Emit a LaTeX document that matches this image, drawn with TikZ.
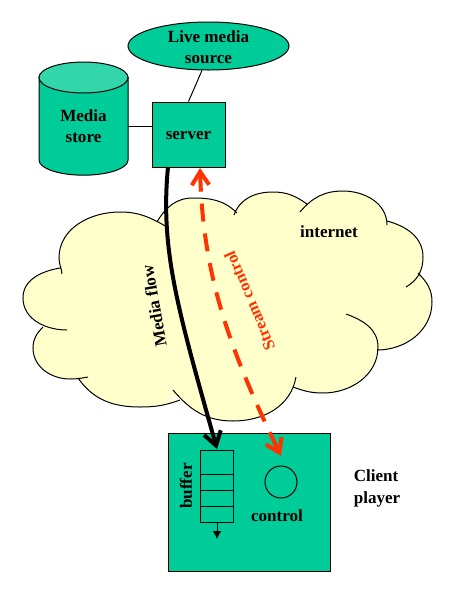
\documentclass[tikz,border=0pt]{standalone}
\usepackage{fontspec}
\setmainfont{Liberation Serif}
\usetikzlibrary{shapes.geometric,arrows.meta}
\definecolor{boxgreen}{HTML}{00CC99}
\definecolor{topgreen}{HTML}{33D6AB}
\definecolor{cloudyellow}{HTML}{FFFFCC}
\definecolor{streamred}{HTML}{FF3300}
% the lobes of the cloud, each one an open stroke
\newcommand{\cloudlobes}{
    (157,222) to[out=60,in=180] (193,198) to[out=0,in=135] (237,213)
    (234,215) to[out=70,in=180] (273,192) to[out=0,in=145] (307,204)
    (300,212) to[out=50,in=180] (343,191) to[out=0,in=90] (387,225)
    (387,221) to[out=-15,in=90] (423,257) to[out=-90,in=30] (406,287)
    (418,273) to[out=-45,in=90] (432,302) to[out=-90,in=0] (377,350)
    (346,314) to[out=-20,in=90] (378,347) to[out=-90,in=0] (323,393) to[out=180,in=-20] (293,387)
    (296,377) to[out=-100,in=0] (233,421) to[out=180,in=-50] (173,390)
    (180,400) to[out=200,in=0] (140,407) to[out=180,in=-55] (78,378)
    (88,377) to[out=190,in=0] (70,379) to[out=180,in=-90] (33,348) to[out=90,in=225] (43,327)
    (67,330) to[out=180,in=-90] (23,298) to[out=90,in=190] (60,268)
    (62,274) to[out=95,in=-90] (59,258) to[out=90,in=180] (120,212) to[out=0,in=150] (167,227)
}
\begin{document}
\begin{tikzpicture}[x=.75pt,y=-.75pt,line width=.75pt,
    txt/.style={font=\fontsize{12.8}{16}\selectfont\bfseries,align=center,inner sep=0pt},
    box/.style={draw,fill=boxgreen,inner sep=0pt},
    slot/.style={draw,inner sep=0pt,minimum width=24.4pt},
    flow/.style={line width=3pt,-{Straight Barb[length=10pt,width=13pt,line width=3pt]}},
    stream/.style={streamred,line width=3pt,dash pattern=on 13.5pt off 9pt,
        {Straight Barb[length=10pt,width=13pt,line width=3pt]}-{Straight Barb[length=10pt,width=13pt,line width=3pt]}}]

    \useasboundingbox (0,0) rectangle (458,594);

    % the cloud
    \fill[cloudyellow] (157,222) -- (193,198) -- (237,213) -- (273,192) -- (307,204) -- (343,191)
    -- (387,223) -- (423,257) -- (418,273) -- (432,302) -- (377,350) -- (323,393) -- (293,387)
    -- (233,421) -- (173,395) -- (140,407) -- (78,378) -- (70,379) -- (33,348) -- (43,327)
    -- (23,298) -- (60,270) -- (59,258) -- (120,212) -- cycle;
    \fill[cloudyellow] \cloudlobes;
    \draw \cloudlobes;

    % the boxes
    \node[box,ellipse,minimum width=120.75pt,minimum height=36pt] (source) at (208.5,46) {};
    \node[box,minimum width=54.75pt,minimum height=48.75pt] (server) at (188.5,134.5) {};
    \node[box,minimum width=121.5pt,minimum height=103.5pt] (client) at (249,502) {};

    % the store
    \draw[fill=boxgreen] (39,77) -- (39,160) arc[start angle=180,end angle=360,x radius=33.4pt,y radius=11.4pt]
    -- (128,77) -- cycle;
    \draw[fill=topgreen] (83.5,77.5) ellipse[x radius=33.4pt,y radius=11.6pt];

    \node[slot,minimum height=18pt] (slota) at (217,462) {};
    \node[slot,minimum height=12pt] (slotb) at (217,482) {};
    \node[slot,minimum height=12pt] (slotc) at (217,498) {};
    \node[slot,minimum height=12.5pt] (slotd) at (217,514.5) {};
    \node[draw,circle,minimum size=24pt,inner sep=0pt] (ctrl) at (281,482) {};
    \coordinate (out) at (217,539);
    \coordinate (storeport) at (128,126);

    % the texts
    \node[txt] (sourcetxt) at (208.5,47) {Live media\\source};
    \node[txt] (servertxt) at (188.5,136) {server};
    \node[txt] (storetxt) at (83.5,126) {Media\\store};
    \node[txt,rotate=90] (buffertxt) at (186,486) {buffer};
    \node[txt] (controltxt) at (277,516) {control};
    \node[txt,align=left] (clienttxt) at (377,488.5) {Client\\player};
    \node[txt] (nettxt) at (329,232) {internet};
    \node[txt,rotate=100] (flowtxt) at (154,306) {Media flow};
    \node[txt,rotate=113,text=streamred,font=\fontsize{12.5}{16}\selectfont\bfseries] (streamtxt) at (249.5,301) {Stream control};

    \draw (storeport) -- (storeport -| server.west);
    \draw (source.255) -- (server.north);
    \draw[-{Latex[length=6pt,width=6.5pt]}] (slotd.south) -- (out);

    \coordinate (flowa) at (168,167);
    \coordinate (flowb) at (217,449);
    \coordinate (streama) at (200,168);
    \coordinate (streamb) at (281,456);
    \draw[flow] (flowa) .. controls (160,250) and (178,310) .. (flowb);
    \draw[stream] (streama) .. controls (203,270) and (225,340) .. (streamb);
  \end{tikzpicture}
\end{document}
